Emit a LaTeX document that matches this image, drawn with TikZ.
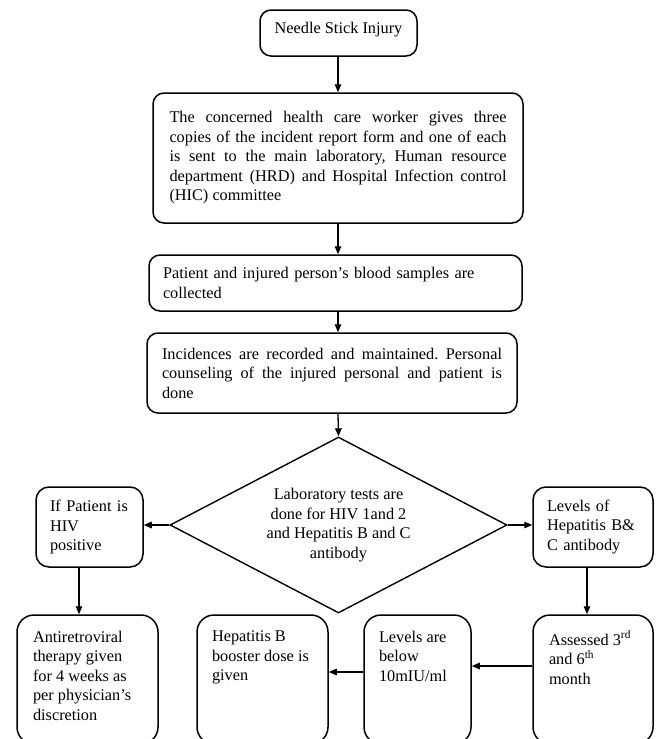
\documentclass[tikz,border=0pt]{standalone}
\usepackage{fontspec}
\setmainfont{Liberation Serif}
\frenchspacing
\usetikzlibrary{shapes.geometric,arrows.meta,calc}
\tikzset{
  base/.style={draw, line width=1.5pt, inner sep=0pt, font=\fontsize{16.3}{19.5}\selectfont\frenchspacing},
  topbox/.style={base, rounded corners=11pt, align=left},
  justbox/.style={base, rounded corners=11pt, align=justify},
  sidebox/.style={base, rounded corners=13pt, align=left},
  botbox/.style={base, rounded corners=17pt},
  decision/.style={base, diamond, aspect=1.9, align=center, line width=1.4pt},
  arr/.style={line width=1.3pt, -{Triangle[length=8pt,width=6.5pt]}},
}
\newcommand\botpar[2]{\parbox[c][129pt][t]{#1}{\raggedright\vspace*{16pt}#2}}
\begin{document}
\begin{tikzpicture}[x=1pt,y=-1pt]
  \clip (0,0) rectangle (656,739);
  \fill[white] (0,0) rectangle (656,739);

  \coordinate (cx) at (338,0);
  \coordinate (lx) at (79,0);
  \coordinate (rx) at (587,0);
  \coordinate (ya) at (0,666);
  \coordinate (yb) at (0,672);

  \node[topbox, minimum width=157pt, minimum height=46pt, text depth=11pt] (b1) at (338.5,33) {Needle Stick Injury};

  \node[justbox, minimum width=370pt, minimum height=130pt, text width=337pt] (b2) at (338,158)
    {The concerned health care worker gives three\linebreak
     copies of the incident report form and one of each\linebreak
     is sent to the main laboratory, Human resource\linebreak
     department (HRD) and Hospital Infection control\linebreak
     (HIC) committee};

  \node[topbox, minimum width=373pt, minimum height=56pt, text width=345pt] (b3) at (335.5,283)
    {Patient and injured person’s blood samples are\\collected};

  \node[justbox, minimum width=370pt, minimum height=80pt, text width=340pt] (b4) at (332,373)
    {Incidences are recorded and maintained. Personal\linebreak
     counseling of the injured personal and patient is\linebreak
     done};

  \node[decision, minimum width=337pt, minimum height=176pt] (dia) at (338.5,525)
    {Laboratory tests are\\done for HIV 1and 2\\and Hepatitis B and C\\antibody};

  \node[sidebox, minimum width=107pt, minimum height=80pt, text width=79pt] (hiv) at (89.5,527)
    {If Patient is\\HIV\\positive};
  \node[sidebox, minimum width=120pt, minimum height=80pt, text width=92pt] (hep) at (593,527)
    {Levels of\\Hepatitis B\&\\C antibody};

  \node[botbox, minimum width=141pt] (art) at (87.5,679.5)
    {\botpar{109pt}{Antiretroviral\\therapy given\\for 4 weeks as\\per physician’s\\discretion}};
  \node[botbox, minimum width=131pt] (boost) at (262.5,679.5)
    {\botpar{101pt}{Hepatitis B\\booster dose is\\given}};
  \node[botbox, minimum width=107pt] (lev) at (417.5,679.5)
    {\botpar{77pt}{Levels are\\below\\10mIU/ml}};
  \node[botbox, minimum width=120pt] (ass) at (593,679.5)
    {\botpar{88pt}{Assessed 3\textsuperscript{rd}\\and 6\textsuperscript{th}\\month}};

  \draw[arr] (b1.south -| cx) -- (b2.north -| cx);
  \draw[arr] (b2.south -| cx) -- (b3.north -| cx);
  \draw[arr] (b3.south -| cx) -- (b4.north -| cx);
  \draw[arr] (b4.south -| cx) -- (dia.north);
  \draw[arr] (dia.west) -- (dia.west -| hiv.east);
  \draw[arr] (dia.east) -- (dia.east -| hep.west);
  \draw[arr] (hiv.south -| lx) -- (art.north -| lx);
  \draw[arr] (hep.south -| rx) -- (ass.north -| rx);
  \draw[arr] (ass.west |- ya) -- (lev.east |- ya);
  \draw[arr] (lev.west |- yb) -- (boost.east |- yb);
\end{tikzpicture}
\end{document}
